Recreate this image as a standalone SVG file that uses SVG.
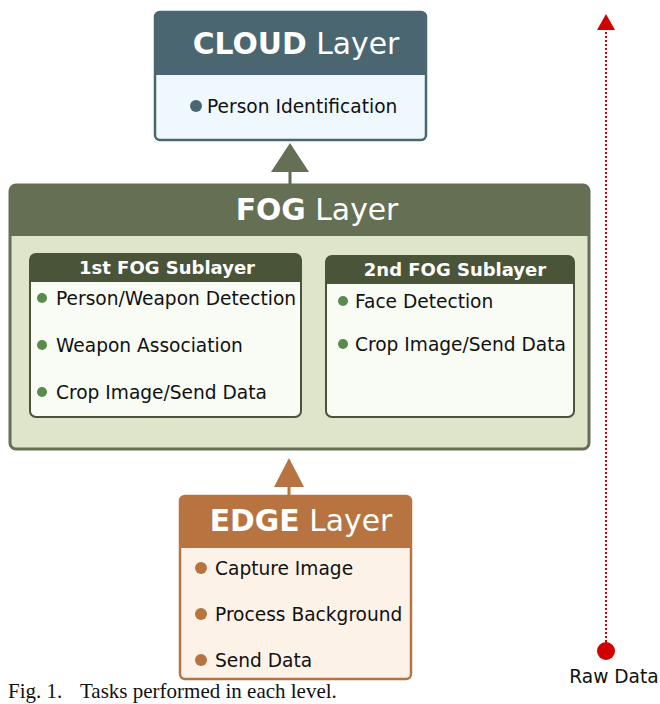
<svg xmlns="http://www.w3.org/2000/svg" width="660" height="704" viewBox="0 0 660 704">
<style>
text{font-family:"DejaVu Sans",sans-serif;}
.title{font-size:29.8px;fill:#fff;}
.b{font-weight:bold;}
.item{font-size:18.6px;fill:#111;}
.sub{font-size:18px;font-weight:bold;fill:#fff;}
.cap{font-family:"Liberation Serif",serif;font-size:21px;fill:#111;}
</style>
<rect width="660" height="704" fill="#fff"/>
<g id="connectors">
  <line x1="290" y1="185" x2="290" y2="168" stroke="#5d6a4b" stroke-width="3"/>
  <polygon points="290,143 271,172 309,172" fill="#646f53"/>
  <line x1="289" y1="495" x2="289" y2="485" stroke="#b87440" stroke-width="3"/>
  <polygon points="289,458 274,487 304,487" fill="#b87440"/>
  <line x1="302" y1="341" x2="318" y2="341" stroke="#4a5438" stroke-width="3"/>
  <polygon points="328,341 316,331 316,351" fill="#4a5438"/>
  <line x1="606" y1="642" x2="606" y2="30" stroke="#d10000" stroke-width="2" stroke-dasharray="2,2"/>
  <polygon points="606,14 597,30 615,30" fill="#d10000"/>
</g>
<g id="cloud">
  <rect x="155" y="12" width="271" height="128" rx="5" fill="#eef8fd" stroke="#4a6670" stroke-width="2.5"/>
  <path d="M155,75 V17 a5,5 0 0 1 5,-5 H421 a5,5 0 0 1 5,5 V75 Z" fill="#4a6670"/>
  <text x="296" y="54" text-anchor="middle" class="title"><tspan class="b">CLOUD</tspan> Layer</text>
  <circle cx="196" cy="106" r="6" fill="#4a6670"/>
  <text x="207" y="113" class="item">Person Identification</text>
</g>
<g id="fog">
  <rect x="10" y="185" width="579" height="264" rx="6" fill="#dfe5cb" stroke="#646f53" stroke-width="3"/>
  <path d="M10,236 V191 a6,6 0 0 1 6,-6 H583 a6,6 0 0 1 6,6 V236 Z" fill="#646f53"/>
  <text x="317" y="220" text-anchor="middle" class="title"><tspan class="b">FOG</tspan> Layer</text>
</g>
<g id="fog1">
  <rect x="30" y="254" width="271" height="163" rx="6" fill="#f8fcf4" stroke="#4a5438" stroke-width="2"/>
  <path d="M30,282 V260 a6,6 0 0 1 6,-6 H295 a6,6 0 0 1 6,6 V282 Z" fill="#4a5438"/>
  <text x="167" y="274" text-anchor="middle" class="sub">1st FOG Sublayer</text>
  <circle cx="42" cy="298" r="5" fill="#5a8a4e"/>
  <text x="56" y="305" class="item">Person/Weapon Detection</text>
  <circle cx="42" cy="345" r="5" fill="#5a8a4e"/>
  <text x="56" y="352" class="item">Weapon Association</text>
  <circle cx="42" cy="392" r="5" fill="#5a8a4e"/>
  <text x="56" y="399" class="item">Crop Image/Send Data</text>
</g>
<g id="fog2">
  <rect x="326" y="256" width="248" height="161" rx="6" fill="#f8fcf4" stroke="#4a5438" stroke-width="2"/>
  <path d="M326,284 V262 a6,6 0 0 1 6,-6 H568 a6,6 0 0 1 6,6 V284 Z" fill="#4a5438"/>
  <text x="455" y="276" text-anchor="middle" class="sub">2nd FOG Sublayer</text>
  <circle cx="343" cy="301" r="5" fill="#5a8a4e"/>
  <text x="355" y="308" class="item">Face Detection</text>
  <circle cx="343" cy="344" r="5" fill="#5a8a4e"/>
  <text x="355" y="351" class="item">Crop Image/Send Data</text>
</g>
<g id="edge">
  <rect x="180" y="496" width="231" height="183" rx="5" fill="#fdf2e8" stroke="#b87440" stroke-width="2.5"/>
  <path d="M180,548 V501 a5,5 0 0 1 5,-5 H406 a5,5 0 0 1 5,5 V548 Z" fill="#b87440"/>
  <text x="301" y="531" text-anchor="middle" class="title"><tspan class="b">EDGE</tspan> Layer</text>
  <circle cx="201" cy="568" r="6" fill="#b87440"/>
  <text x="215" y="575" class="item">Capture Image</text>
  <circle cx="201" cy="614" r="6" fill="#b87440"/>
  <text x="215" y="621" class="item">Process Background</text>
  <circle cx="201" cy="660" r="6" fill="#b87440"/>
  <text x="215" y="667" class="item">Send Data</text>
</g>
<g id="rawdata">
  <circle cx="606" cy="651" r="9" fill="#d10000"/>
  <text x="614" y="683" text-anchor="middle" class="item">Raw Data</text>
</g>
<text x="8" y="698" class="cap">Fig. 1.</text>
<text x="80" y="698" class="cap">Tasks performed in each level.</text>
</svg>
